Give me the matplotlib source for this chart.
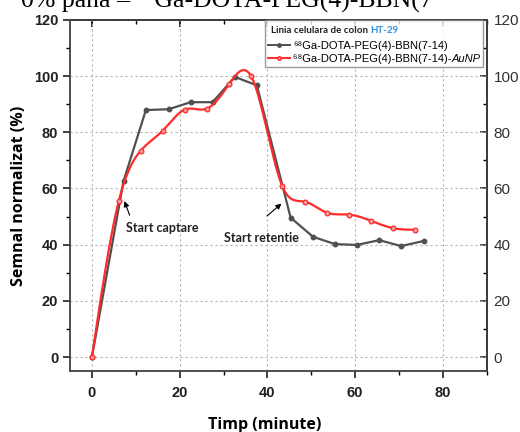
import numpy as np
import matplotlib
matplotlib.use('Agg')
import matplotlib.pyplot as plt
from matplotlib.ticker import MultipleLocator
from matplotlib.font_manager import FontProperties


# uptake curves, HT-29 colon cell line
t_free = [0, 7.2, 12.3, 17.5, 22.5, 27.5, 32.6, 37.6, 45.3, 50.4, 55.4, 60.4, 65.5, 70.5, 75.6]
sig_free = [0, 62.6, 87.9, 88.2, 90.7, 90.7, 99.7, 96.7, 49.6, 42.8, 40.2, 39.9, 41.6, 39.5, 41.3]

t_np = [0, 6.1, 11.1, 16.1, 21.2, 26.2, 31.3, 36.3, 43.4, 48.5, 53.5, 58.5, 63.6, 68.6, 73.7]
sig_np = [0, 55.4, 73.4, 80.5, 88.1, 88.4, 97.2, 99.9, 60.8, 55.3, 51.4, 50.7, 48.5, 45.9, 45.3]

label_free = '⁶⁸Ga-DOTA-PEG(4)-BBN(7-14)'
label_np = '⁶⁸Ga-DOTA-PEG(4)-BBN(7-14)-'
label_np_it = 'AuNP'


def natural_spline(x, y, n=600):
    # plain natural cubic spline, only used for drawing the smooth red line
    x = np.asarray(x, float)
    y = np.asarray(y, float)
    k = len(x)
    h = np.diff(x)
    A = np.zeros((k, k))
    b = np.zeros(k)
    A[0, 0] = A[-1, -1] = 1
    for i in range(1, k - 1):
        A[i, i - 1] = h[i - 1]
        A[i, i] = 2 * (h[i - 1] + h[i])
        A[i, i + 1] = h[i]
        b[i] = 6 * ((y[i + 1] - y[i]) / h[i] - (y[i] - y[i - 1]) / h[i - 1])
    M = np.linalg.solve(A, b)
    xs = np.linspace(x[0], x[-1], n)
    idx = np.clip(np.searchsorted(x, xs) - 1, 0, k - 2)
    x0, x1 = x[idx], x[idx + 1]
    hh = x1 - x0
    ys = (M[idx] * (x1 - xs) ** 3 / (6 * hh) + M[idx + 1] * (xs - x0) ** 3 / (6 * hh)
          + (y[idx] / hh - M[idx] * hh / 6) * (x1 - xs)
          + (y[idx + 1] / hh - M[idx + 1] * hh / 6) * (xs - x0))
    return xs, ys


fig = plt.figure(figsize=(5.2, 4.32), dpi=100)
ax = fig.add_axes([0.1346, 0.141, 0.8014, 0.813])

black = '#505050'
red = '#ff2b2b'

ax.plot(t_free, sig_free, color=black, lw=1.6, marker='o', ms=3.2,
        mfc=black, mec=black, zorder=3)
xs, ys = natural_spline(t_np, sig_np)
ax.plot(xs, ys, color=red, lw=1.6, zorder=4)
ax.plot(t_np, sig_np, ls='none', marker='o', ms=3.4, mfc='#ff9a9a', mec=red, mew=0.9, zorder=5)

# legend handles
h1, = ax.plot([], [], color=black, lw=1.4, marker='o', ms=2.5)
h2, = ax.plot([], [], color=red, lw=1.4, marker='o', ms=2.5, mfc='#ff9a9a')

ax.set_xlim(-5, 90)
ax.set_ylim(-5, 120)
ax.xaxis.set_major_locator(MultipleLocator(20))
ax.xaxis.set_minor_locator(MultipleLocator(10))
ax.yaxis.set_major_locator(MultipleLocator(20))
ax.yaxis.set_minor_locator(MultipleLocator(10))
ax.grid(True, which='major', ls=(0, (2, 2.5)), color='#b5b5b5', lw=0.8)

for s in ax.spines.values():
    s.set_linewidth(1.3)
    s.set_color('#404040')

ax.tick_params(axis='both', which='major', direction='out', length=5, width=1.2,
               labelsize=10.5, colors='#202020')
ax.tick_params(axis='both', which='minor', direction='out', length=3, width=1.0)
ax.tick_params(axis='x', which='major', pad=6)
for lab in ax.get_xticklabels() + ax.get_yticklabels():
    lab.set_fontweight('bold')
    lab.set_family('Liberation Sans')

# top axis: inward ticks only
ax_t = ax.secondary_xaxis('top')
ax_t.xaxis.set_major_locator(MultipleLocator(20))
ax_t.xaxis.set_minor_locator(MultipleLocator(10))
ax_t.tick_params(axis='x', which='major', direction='in', length=5, width=1.2, labeltop=False)
ax_t.tick_params(axis='x', which='minor', direction='in', length=3, width=1.0)
ax_t.spines['top'].set_linewidth(1.3)

# right axis: inward ticks, plain-weight labels
ax_r = ax.secondary_yaxis('right')
ax_r.yaxis.set_major_locator(MultipleLocator(20))
ax_r.yaxis.set_minor_locator(MultipleLocator(10))
ax_r.tick_params(axis='y', which='major', direction='in', length=5, width=1.2,
                 labelsize=11, colors='#303030', pad=5)
ax_r.tick_params(axis='y', which='minor', direction='in', length=3, width=1.0)
for lab in ax_r.get_yticklabels():
    lab.set_family('Liberation Sans')
ax_r.spines['right'].set_linewidth(1.3)

ax.set_xlabel('Timp (minute)', fontsize=11.5, fontweight='bold', family='Open Sans')
ax.xaxis.set_label_coords(0.468, -0.13)
ax.set_ylabel('Semnal normalizat (%)', fontsize=11.5, fontweight='bold', family='Open Sans', labelpad=5)

arrow = dict(arrowstyle='-|>', color='black', lw=0.8, mutation_scale=8, shrinkA=0, shrinkB=0)
ax.annotate('', xy=(7.4, 55.5), xytext=(8.6, 50.5), arrowprops=arrow)
ax.text(7.8, 46.0, 'Start captare', fontsize=9, fontweight='bold', family='Lato',
        color='#202020', ha='left', va='center')
ax.annotate('', xy=(43.2, 54.6), xytext=(39.9, 50.2), arrowprops=arrow)
ax.text(30.0, 42.2, 'Start retentie', fontsize=9, fontweight='bold', family='Lato',
        color='#202020', ha='left', va='center')

# legend: the italic "AuNP" is drawn on its own after the second label,
# so reserve room for it with trailing spaces
leg_font = FontProperties(family=['Liberation Sans', 'DejaVu Sans'], size=8.0)
it_font = FontProperties(family='Liberation Sans', style='italic', size=8.0)
renderer = fig.canvas.get_renderer()
probe = fig.text(0, 0, label_np_it, fontproperties=it_font)
w_it = probe.get_window_extent(renderer).width
probe.set_text('x x')
w_sp = probe.get_window_extent(renderer).width
probe.set_text('xx')
w_sp -= probe.get_window_extent(renderer).width
probe.remove()
pad = ' ' * int(round(w_it / w_sp))

leg = ax.legend([h1, h2], [label_free, label_np + pad], loc='upper right',
                bbox_to_anchor=(0.9915, 1.0), borderaxespad=0, frameon=True, fancybox=False,
                edgecolor='#808080', handlelength=2.0, handletextpad=0.25,
                borderpad=0.3, labelspacing=0.25, title=' ', title_fontsize=10.5,
                prop=leg_font)
leg.get_frame().set_linewidth(1.0)
leg._legend_box.align = 'left'
leg.set_zorder(10)

fig.canvas.draw()
inv = fig.transFigure.inverted()

# italic tail of the second label
t_np_lab = leg.get_texts()[1]
probe = fig.text(0, 0, label_np, fontproperties=leg_font)
w_main = probe.get_window_extent(renderer).width
probe.remove()
ext = t_np_lab.get_window_extent(renderer)
ix, iy = inv.transform((ext.x0 + w_main, ext.y0))
fig.text(ix, iy, label_np_it, fontproperties=it_font, va='bottom', ha='left',
         color=t_np_lab.get_color(), zorder=11)

# legend title in two colours
tb = leg.get_title().get_window_extent(renderer)
lx, ly = inv.transform((leg.get_window_extent(renderer).x0 + 6, tb.y0 + tb.height / 2))
t1 = fig.text(lx, ly, 'Linia celulara de colon ', fontsize=7.0, fontweight='bold',
              family='Lato', va='center', ha='left', color='#202020', zorder=11)
e1 = t1.get_window_extent(renderer)
fig.text(inv.transform((e1.x1, 0))[0], ly, 'HT-29', fontsize=7.0, fontweight='bold',
         family='Lato', va='center', ha='left', color='#2f8fdf', zorder=11)

# clipped caption line from the page above the chart
fig.text(0.041, 0.985, '0% până – ⁶⁸Ga-DOTA-PEG(4)-BBN(7', fontsize=18.5,
         family=['Liberation Serif', 'DejaVu Serif'], ha='left', va='baseline', color='black')

fig.savefig('out.png', dpi=100)
